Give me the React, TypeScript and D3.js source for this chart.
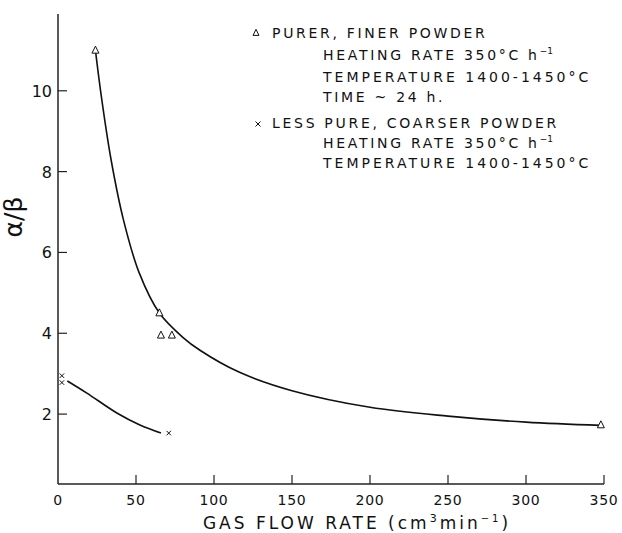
import React from 'react';
import * as d3 from 'd3';

// purer, finer powder (triangles)
const purerX = [24, 65, 66, 73, 348];
const purerY = [11.0, 4.5, 3.95, 3.95, 1.73];
// hand-drawn curve through the triangles
const purerCurveX = [24, 28, 34, 42, 52, 65, 80, 91, 116, 150, 200, 250, 300, 348];
const purerCurveY = [11.0, 9.8, 8.3, 6.8, 5.5, 4.5, 3.9, 3.58, 3.04, 2.58, 2.17, 1.95, 1.8, 1.72];

// less pure, coarser powder (crosses)
const coarseX = [2.5, 2.5, 71];
const coarseY = [2.95, 2.78, 1.53];
const coarseCurveX = [6, 18.5, 38, 52.5, 66];
const coarseCurveY = [2.82, 2.52, 2.02, 1.73, 1.53];

const xTicks = [0, 50, 100, 150, 200, 250, 300, 350];
const yTicks = [2, 4, 6, 8, 10];

const width = 622;
const height = 533;
const font = '"DejaVu Sans", sans-serif';

const App = () => {
  const x = d3.scaleLinear().domain([0, 350]).range([58, 604]);
  const y = d3.scaleLinear().domain([0.27, 11.9]).range([484, 14]);

  const line = d3.line<[number, number]>()
    .x(d => x(d[0]))
    .y(d => y(d[1]))
    .curve(d3.curveCatmullRom.alpha(0.5));

  const purerCurve = purerCurveX.map((v, i) => [v, purerCurveY[i]] as [number, number]);
  const coarseCurve = coarseCurveX.map((v, i) => [v, coarseCurveY[i]] as [number, number]);

  const tri = (cx: number, cy: number, s: number) =>
    `M${cx},${cy - s * 0.6}L${cx + s / 2},${cy + s * 0.4}L${cx - s / 2},${cy + s * 0.4}Z`;
  const cross = (cx: number, cy: number, s: number) =>
    `M${cx - s / 2},${cy - s / 2}L${cx + s / 2},${cy + s / 2}M${cx + s / 2},${cy - s / 2}L${cx - s / 2},${cy + s / 2}`;

  const legendLine = { fontFamily: font, fontSize: 14, letterSpacing: 2.7, fill: '#111' };

  return (
    <svg width={width} height={height} style={{ position: 'absolute', left: 0, top: 0, background: '#fff' }}>
      {/* axes */}
      <line x1={x(0)} x2={x(0)} y1={y.range()[1]} y2={y.range()[0]} stroke="#222" strokeWidth={1.5} />
      <line x1={x(0)} x2={x(350)} y1={y.range()[0]} y2={y.range()[0]} stroke="#222" strokeWidth={1.5} />

      {xTicks.map(t => (
        <g key={'x' + t}>
          {t > 0 && <line x1={x(t)} x2={x(t)} y1={484} y2={475} stroke="#222" strokeWidth={1.2} />}
          <text x={x(t)} y={505} textAnchor="middle" fontFamily={font} fontSize={14} letterSpacing={0.8} fill="#111">{t}</text>
        </g>
      ))}
      {yTicks.map(t => (
        <g key={'y' + t}>
          <line x1={x(0)} x2={x(0) + 9} y1={y(t)} y2={y(t)} stroke="#222" strokeWidth={1.2} />
          <text x={52} y={y(t) + 6} textAnchor="end" fontFamily={font} fontSize={16} fill="#111">{t}</text>
        </g>
      ))}

      <text x={357} y={529} textAnchor="middle" fontFamily={font} fontSize={17} letterSpacing={3.0} fill="#111">
        GAS FLOW RATE (cm<tspan fontSize={11} dy={-7}>3</tspan><tspan dy={7}>min</tspan><tspan fontSize={10} dy={-7}>−1</tspan><tspan dy={7}>)</tspan>
      </text>
      <text transform="translate(22,217) rotate(-90)" textAnchor="middle" fontFamily={font} fontSize={25} fill="#111">α/β</text>

      {/* curves */}
      <path d={line(purerCurve) || ''} fill="none" stroke="#111" strokeWidth={1.6} />
      <path d={line(coarseCurve) || ''} fill="none" stroke="#111" strokeWidth={1.6} />

      {/* markers */}
      {purerX.map((v, i) => (
        <path key={'t' + i} d={tri(x(v), y(purerY[i]), 7)} fill="#fff" stroke="#111" strokeWidth={1} />
      ))}
      {coarseX.map((v, i) => (
        <path key={'c' + i} d={cross(x(v), y(coarseY[i]), 4.5)} stroke="#111" strokeWidth={1} />
      ))}

      {/* legend */}
      <path d={tri(256, 33, 6)} fill="#fff" stroke="#111" strokeWidth={1} />
      <text x={272} y={38} {...legendLine}>PURER, FINER POWDER</text>
      <text x={323} y={60} {...legendLine}>HEATING RATE 350°C h<tspan fontSize={9} dy={-6} letterSpacing={0}>−1</tspan></text>
      <text x={323} y={82} {...legendLine} textLength={268}>TEMPERATURE 1400-1450°C</text>
      <text x={323} y={102} {...legendLine}>TIME ~ 24 h.</text>
      <path d={cross(258, 124, 5)} stroke="#111" strokeWidth={1} />
      <text x={272} y={128} {...legendLine}>LESS PURE, COARSER POWDER</text>
      <text x={323} y={148} {...legendLine}>HEATING RATE 350°C h<tspan fontSize={9} dy={-6} letterSpacing={0}>−1</tspan></text>
      <text x={323} y={168} {...legendLine} textLength={268}>TEMPERATURE 1400-1450°C</text>
    </svg>
  );
};

export default App;
